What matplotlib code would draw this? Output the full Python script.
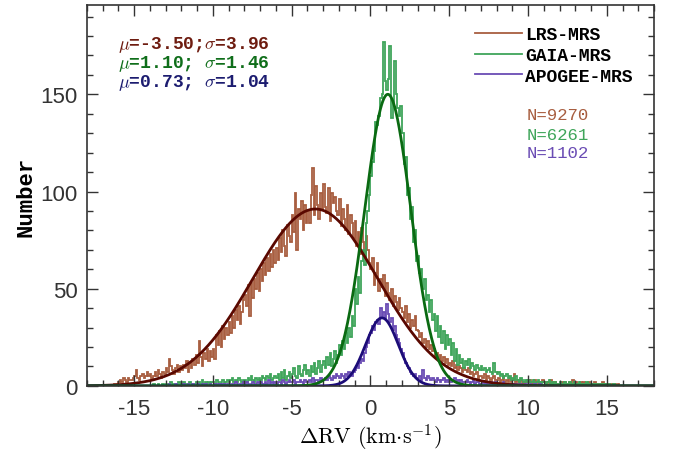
import numpy as np
import matplotlib
matplotlib.use('Agg')
import matplotlib.pyplot as plt

plt.rcParams['mathtext.fontset'] = 'cm'
plt.rcParams['axes.unicode_minus'] = False
plt.rcParams['font.family'] = 'Liberation Sans'

# histogram counts, 0.1 km/s bins, each row = one unit of dRV
bin_width = 0.1

lrs_start = -17.0
lrs_counts = [
    0, 0, 0, 0, 0, 0, 0, 1, 0, 1,
    2, 3, 2, 4, 3, 2, 4, 3, 3, 4,
    5, 8, 4, 3, 5, 6, 4, 5, 7, 5,
    6, 4, 5, 7, 5, 8, 6, 4, 7, 6,
    9, 7, 14, 10, 8, 6, 9, 11, 7, 10,
    8, 11, 9, 13, 7, 12, 9, 14, 11, 16,
    12, 23, 15, 10, 17, 14, 19, 13, 18, 15,
    19, 14, 26, 21, 28, 20, 31, 24, 30, 26,
    33, 27, 36, 30, 39, 34, 41, 32, 38, 44,
    47, 41, 52, 36, 53, 45, 55, 50, 58, 49,
    60, 54, 63, 57, 66, 59, 68, 61, 70, 63,
    71, 65, 76, 69, 80, 72, 67, 83, 77, 74,
    88, 79, 99, 70, 91, 86, 95, 80, 93, 84,
    90, 84, 98, 112, 88, 103, 93, 86, 99, 91,
    104, 92, 89, 102, 85, 99, 94, 97, 90, 88,
    96, 82, 91, 86, 80, 93, 78, 88, 84, 76,
    85, 72, 79, 68, 81, 74, 66, 77, 70, 63,
    60, 66, 52, 58, 63, 49, 55, 51, 57, 46,
    53, 48, 44, 50, 41, 46, 43, 39, 45, 40,
    38, 35, 41, 33, 37, 30, 34, 31, 36, 29,
    28, 25, 27, 22, 24, 20, 23, 19, 21, 18,
    19, 15, 17, 14, 16, 13, 15, 12, 14, 11,
    12, 10, 13, 9, 11, 8, 10, 9, 7, 9,
    8, 7, 9, 6, 7, 5, 6, 7, 4, 5,
    5, 4, 6, 3, 5, 4, 3, 4, 5, 3,
    3, 4, 2, 3, 5, 2, 3, 2, 4, 2,
    3, 6, 2, 3, 2, 3, 2, 1, 2, 3,
    2, 3, 1, 2, 3, 2, 1, 2, 2, 3,
    2, 1, 2, 1, 3, 1, 2, 2, 1, 1,
    1, 2, 1, 2, 1, 1, 2, 1, 3, 1,
    2, 1, 1, 2, 1, 2, 1, 1, 2, 1,
    1, 1, 2, 1, 1, 0, 1, 2, 1, 1,
    1, 0, 1, 1, 0, 1, 0, 1, 0, 0,
]

gaia_start = -14.0
gaia_counts = [
    0, 0, 1, 0, 0, 1, 0, 0, 1, 0,
    1, 0, 1, 2, 0, 1, 1, 0, 2, 1,
    1, 2, 0, 1, 1, 2, 1, 0, 1, 2,
    1, 2, 1, 3, 1, 2, 0, 2, 1, 2,
    2, 1, 3, 2, 1, 2, 3, 1, 2, 3,
    2, 3, 4, 2, 3, 2, 4, 3, 2, 3,
    3, 2, 4, 3, 5, 3, 2, 4, 3, 4,
    3, 5, 4, 3, 5, 4, 6, 3, 4, 5,
    4, 6, 3, 7, 4, 8, 3, 5, 7, 4,
    6, 9, 5, 4, 10, 6, 5, 8, 11, 6,
    8, 5, 10, 7, 12, 6, 9, 13, 7, 11,
    13, 9, 15, 11, 17, 10, 14, 18, 12, 16,
    21, 16, 23, 19, 27, 22, 30, 25, 36, 31,
    50, 42, 56, 48, 64, 70, 62, 84, 90, 98,
    108, 115, 121, 136, 134, 139, 148, 150, 177, 157,
    152, 158, 175, 138, 146, 167, 150, 143, 139, 144,
    130, 114, 118, 98, 102, 86, 92, 74, 80, 64,
    67, 58, 60, 50, 55, 44, 47, 38, 44, 34,
    37, 28, 36, 25, 31, 22, 28, 19, 26, 21,
    24, 16, 22, 13, 19, 11, 16, 12, 14, 9,
    13, 11, 14, 9, 12, 10, 8, 11, 9, 8,
    10, 8, 9, 7, 8, 9, 7, 6, 12, 7,
    6, 7, 5, 6, 4, 5, 6, 4, 5, 3,
    4, 3, 5, 3, 2, 4, 3, 2, 3, 2,
    3, 2, 2, 3, 1, 2, 3, 2, 1, 2,
    2, 1, 2, 3, 1, 2, 1, 2, 1, 1,
    2, 1, 1, 2, 1, 1, 2, 1, 1, 2,
    1, 1, 2, 1, 0, 1, 1, 2, 1, 0,
    1, 0, 1, 1, 0, 1, 0, 1, 0, 1,
    0, 1, 0, 0, 1, 0, 0, 0, 0, 0,
]

apogee_start = -13.0
apogee_counts = [
    0, 0, 1, 0, 0, 0, 1, 0, 0, 0,
    0, 1, 0, 0, 1, 0, 0, 1, 0, 0,
    1, 0, 0, 1, 0, 1, 0, 0, 1, 0,
    0, 1, 1, 0, 1, 0, 1, 1, 0, 1,
    1, 0, 1, 1, 2, 1, 0, 1, 1, 2,
    1, 2, 1, 0, 1, 2, 1, 1, 2, 1,
    2, 1, 1, 2, 1, 3, 1, 2, 1, 2,
    1, 2, 2, 1, 3, 2, 1, 2, 3, 2,
    2, 3, 1, 2, 2, 3, 2, 1, 3, 2,
    2, 3, 2, 4, 2, 3, 3, 2, 4, 3,
    3, 4, 3, 5, 4, 3, 5, 4, 6, 5,
    4, 6, 5, 4, 6, 5, 7, 6, 5, 7,
    8, 10, 9, 12, 14, 13, 17, 20, 22, 26,
    27, 31, 29, 33, 34, 32, 40, 36, 38, 35,
    42, 37, 33, 35, 29, 31, 26, 24, 22, 19,
    17, 14, 12, 10, 9, 7, 6, 5, 6, 4,
    4, 5, 3, 8, 4, 3, 5, 4, 3, 4,
    3, 2, 4, 3, 2, 3, 4, 2, 3, 2,
    3, 2, 3, 4, 2, 3, 2, 3, 2, 2,
    2, 3, 2, 1, 2, 3, 1, 2, 2, 1,
    1, 2, 1, 2, 1, 1, 2, 1, 1, 2,
    1, 1, 0, 1, 2, 1, 0, 1, 1, 0,
    1, 0, 1, 0, 1, 1, 0, 0, 1, 0,
    0, 1, 0, 0, 1, 0, 0, 1, 0, 0,
]

# gaussian fits: amplitude, mu, sigma
fit_lrs = (91.0, -3.50, 3.96)
fit_gaia = (150.0, 1.10, 1.46)
fit_apogee = (35.0, 0.73, 1.04)

labels = ['LRS-MRS', 'GAIA-MRS', 'APOGEE-MRS']
n_total = [9270, 6261, 1102]

hist_colors = ['#a85e40', '#3fa55a', '#6a4cb4']
fit_colors = ['#5a0800', '#0a6a12', '#1c0c78']


def gauss(x, a, mu, sig):
    return a * np.exp(-(x - mu) ** 2 / (2 * sig ** 2))


fig = plt.figure(figsize=(6.73, 4.52), dpi=100)
ax = fig.add_axes([0.129, 0.144, 0.843, 0.843])

series = [(lrs_start, lrs_counts), (gaia_start, gaia_counts), (apogee_start, apogee_counts)]
for (start, counts), c, lab in zip(series, hist_colors, labels):
    counts = np.array(counts, dtype=float)
    edges = start + bin_width * np.arange(len(counts) + 1)
    ax.stairs(counts, edges, color=c, lw=1.3, label=lab)

xx = np.linspace(-18, 18, 1000)
for fp, c in zip([fit_lrs, fit_apogee, fit_gaia], [fit_colors[0], fit_colors[2], fit_colors[1]]):
    ax.plot(xx, gauss(xx, *fp), color=c, lw=2.0)

ax.set_xlim(-18, 18)
ax.set_ylim(0, 196)
ax.set_xticks([-15, -10, -5, 0, 5, 10, 15])
ax.set_xticks(np.arange(-18, 19, 1), minor=True)
ax.set_yticks([0, 50, 100, 150])
ax.set_yticks(np.arange(0, 197, 10), minor=True)
ax.tick_params(which='both', direction='in', top=True, right=True, colors='#333333',
               labelsize=16, width=1.0)
ax.tick_params(which='major', length=8, pad=6.5)
ax.tick_params(axis='x', which='major', pad=8.5)
ax.tick_params(which='minor', length=4.5)
for s in ax.spines.values():
    s.set_color('#333333')
    s.set_linewidth(1.2)

ax.set_xlabel(r'$\Delta\mathrm{RV}\ (\mathrm{km{\cdot}s^{-1}})$', fontsize=16, labelpad=2)
ax.set_ylabel('Number', family='Liberation Mono', weight='bold', fontsize=16, labelpad=3)

mono = dict(family='Liberation Mono', weight='bold', fontsize=13)
ax.text(0.055, 0.898, r'$\mu$=-3.50;$\sigma$=3.96', color='#6e1c10', transform=ax.transAxes,
        va='center', **mono)
ax.text(0.055, 0.848, r'$\mu$=1.10; $\sigma$=1.46', color='#0f6e1a', transform=ax.transAxes,
        va='center', **mono)
ax.text(0.055, 0.798, r'$\mu$=0.73; $\sigma$=1.04', color='#1c1c70', transform=ax.transAxes,
        va='center', **mono)

ax.legend(loc='upper left', bbox_to_anchor=(0.684, 0.944), frameon=False, borderpad=0,
          borderaxespad=0, handlelength=2.6, handletextpad=0.2, labelspacing=0.21,
          prop=dict(family='Liberation Mono', weight='bold', size=13))

ys = [0.711, 0.661, 0.612]
for n, c, y in zip(n_total, hist_colors, ys):
    ax.text(0.776, y, 'N=%d' % n, color=c, transform=ax.transAxes, va='center',
            family='Liberation Mono', fontsize=12.5)

fig.savefig('out.png', dpi=100)
